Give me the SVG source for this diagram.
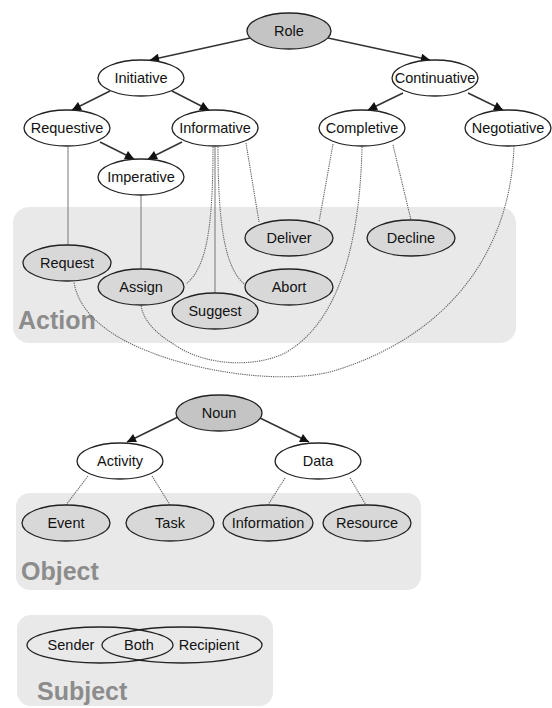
<svg xmlns="http://www.w3.org/2000/svg" width="552" height="708" viewBox="0 0 552 708">
<style>
.box{fill:#e9e9e9}
.lbl{font-family:"Liberation Sans",Arial,sans-serif;font-weight:bold;font-size:25px;fill:#8c8c8c}
.n ellipse{stroke:#222;stroke-width:1.3}
.w ellipse{fill:#fff}
.g ellipse{fill:#c4c4c4}
.a ellipse{fill:#d8d8d8}
.n text,.s text{font-family:"Liberation Sans",Arial,sans-serif;font-size:14.5px;fill:#111;text-anchor:middle;dominant-baseline:central}
.arr{stroke:#333;stroke-width:1.5;fill:none;marker-end:url(#ah)}
.ln{stroke:#777;stroke-width:1;fill:none}
.dt{stroke:#666;stroke-width:1.1;fill:none;stroke-dasharray:1.3 0.9}
</style>
<defs>
<marker id="ah" viewBox="0 0 10 10" refX="10" refY="5" markerWidth="10" markerHeight="9" markerUnits="userSpaceOnUse" orient="auto">
<path d="M0,0 L10,5 L0,10 z" fill="#111"/>
</marker>
</defs>
<g id="groups">
<rect class="box" x="13" y="207" width="503" height="136" rx="16"/>
<text class="lbl" x="18" y="329">Action</text>
<rect class="box" x="16" y="493" width="405" height="97" rx="14"/>
<text class="lbl" x="21" y="580">Object</text>
<rect class="box" x="17" y="615" width="256" height="91" rx="14"/>
<text class="lbl" x="37" y="700">Subject</text>
</g>
<g id="connectors">
<path class="arr" d="M250,38 L150,60"/>
<path class="arr" d="M328,38 L430,60"/>
<path class="arr" d="M110,91 L72,110"/>
<path class="arr" d="M172,91 L209,110"/>
<path class="arr" d="M100,142 L134,159"/>
<path class="arr" d="M182,142 L148,159"/>
<path class="arr" d="M403,93 L368,110"/>
<path class="arr" d="M468,93 L503,110"/>
<path class="arr" d="M180,416 L127,442"/>
<path class="arr" d="M260,418 L309,442"/>
<path class="ln" d="M68,147 L68,245"/>
<path class="ln" d="M141,195 L141,269"/>
<path class="ln" d="M215,147 L215,293"/>
<path class="dt" d="M213,147 C213,230 206,268 186,284"/>
<path class="dt" d="M218,147 C218,230 226,272 247,286"/>
<path class="dt" d="M246,143 L259,222"/>
<path class="dt" d="M333,144 L319,222"/>
<path class="dt" d="M393,145 L411,220"/>
<path class="dt" d="M362,147 C360,240 340,322 285,353 C255,368 205,366 175,345 C155,333 143,320 141,305"/>
<path class="dt" d="M514,146 C510,260 440,340 330,372 C280,384 200,372 150,352 C105,335 78,310 74,282"/>
<path class="dt" d="M88,476 L66,505"/>
<path class="dt" d="M152,476 L170,505"/>
<path class="dt" d="M285,478 L268,505"/>
<path class="dt" d="M350,478 L366,505"/>
</g>
<g id="role" class="n g"><ellipse cx="289" cy="31" rx="42" ry="18"/><text x="289" y="31">Role</text></g>
<g id="initiative" class="n w"><ellipse cx="141" cy="78" rx="43" ry="18"/><text x="141" y="78">Initiative</text></g>
<g id="continuative" class="n w"><ellipse cx="435" cy="78" rx="43" ry="18"/><text x="435" y="78">Continuative</text></g>
<g id="requestive" class="n w"><ellipse cx="67" cy="128" rx="43" ry="18"/><text x="67" y="128">Requestive</text></g>
<g id="informative" class="n w"><ellipse cx="215" cy="128" rx="43" ry="18"/><text x="215" y="128">Informative</text></g>
<g id="completive" class="n w"><ellipse cx="362" cy="128" rx="43" ry="18"/><text x="362" y="128">Completive</text></g>
<g id="negotiative" class="n w"><ellipse cx="508" cy="128" rx="43" ry="18"/><text x="508" y="128">Negotiative</text></g>
<g id="imperative" class="n w"><ellipse cx="141" cy="177" rx="43" ry="18"/><text x="141" y="177">Imperative</text></g>
<g id="request" class="n a"><ellipse cx="67" cy="263" rx="44" ry="18"/><text x="67" y="263">Request</text></g>
<g id="assign" class="n a"><ellipse cx="141" cy="287" rx="43" ry="18"/><text x="141" y="287">Assign</text></g>
<g id="suggest" class="n a"><ellipse cx="215" cy="311" rx="43" ry="18"/><text x="215" y="311">Suggest</text></g>
<g id="deliver" class="n a"><ellipse cx="289" cy="238" rx="44" ry="18"/><text x="289" y="238">Deliver</text></g>
<g id="abort" class="n a"><ellipse cx="289" cy="287" rx="44" ry="18"/><text x="289" y="287">Abort</text></g>
<g id="decline" class="n a"><ellipse cx="411" cy="238" rx="44" ry="18"/><text x="411" y="238">Decline</text></g>
<g id="noun" class="n g"><ellipse cx="219" cy="413" rx="43" ry="18"/><text x="219" y="413">Noun</text></g>
<g id="activity" class="n w"><ellipse cx="120" cy="461" rx="43" ry="18"/><text x="120" y="461">Activity</text></g>
<g id="data" class="n w"><ellipse cx="318" cy="461" rx="43" ry="18"/><text x="318" y="461">Data</text></g>
<g id="event" class="n a"><ellipse cx="66" cy="523" rx="44" ry="18"/><text x="66" y="523">Event</text></g>
<g id="task" class="n a"><ellipse cx="170" cy="523" rx="44" ry="18"/><text x="170" y="523">Task</text></g>
<g id="information" class="n a"><ellipse cx="268" cy="523" rx="45" ry="18"/><text x="268" y="523">Information</text></g>
<g id="resource" class="n a"><ellipse cx="367" cy="523" rx="44" ry="18"/><text x="367" y="523">Resource</text></g>
<g id="subject-sets" class="s">
<ellipse cx="100" cy="645" rx="73" ry="18" fill="none" stroke="#222" stroke-width="1.3"/>
<ellipse cx="182" cy="645" rx="80" ry="18" fill="none" stroke="#222" stroke-width="1.3"/>
<text x="71" y="645">Sender</text>
<text x="139" y="645">Both</text>
<text x="209" y="645">Recipient</text>
</g>
</svg>
